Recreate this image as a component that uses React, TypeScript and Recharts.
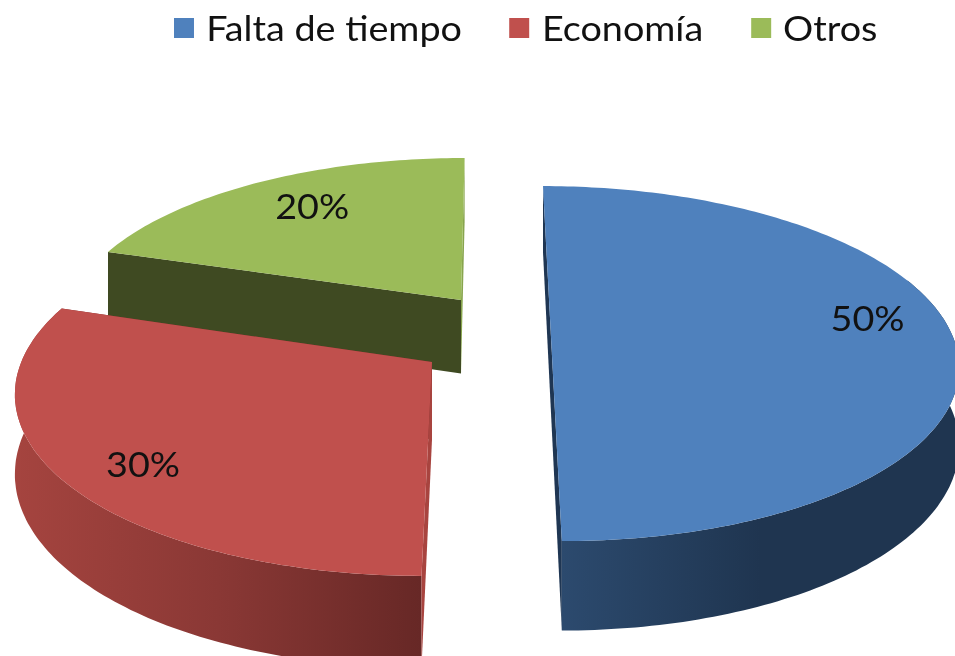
import { PieChart, Pie, Legend } from 'recharts'

const categories = ['Falta de tiempo', 'Economía', 'Otros']
const shares = [50, 30, 20]
const colors = ['#4f81bd', '#c0504d', '#9bbb59']

// drawn back to front, so the pie runs counter-clockwise from the top
const drawOrder = [2, 1, 0]
const pieData = drawOrder.map((i) => ({ name: categories[i], value: shares[i], fill: colors[i] }))

// how the fake 3D is built: plane offset of each exploded slice, wall and rim shades
const looks: Record<string, any> = {
  'Falta de tiempo': { ox: 61, oy: 0, startWall: '#1f3653', endWall: '#1f3653', rimFrom: '#2c4a6e', rimMid: '#1f3550', rimTo: '#1f3550', label: [-5, -19] },
  'Economía': { ox: -56.8, oy: -56.7, startWall: '#7a2e2c', endWall: '#a8443f', rimFrom: '#a5443f', rimMid: '#8a3835', rimTo: '#672826', label: [2, 10] },
  'Otros': { ox: -30, oy: 88.6, startWall: '#88a54e', endWall: '#3f4a22', rimFrom: '#3f4a22', rimMid: '#3f4a22', rimTo: '#3f4a22', label: [16, 2] },
}

const squash = 0.4316
const perspective = 0.15
const depth = 76
const textStretch = 1.11
const RAD = Math.PI / 180

const project = (cx: number, cy: number, R: number, px: number, py: number, z = 0) => {
  const s = 1 / (1 + (perspective * py) / R)
  return [cx + px * s, cy - py * squash * s + z * depth * s]
}

const toPath = (pts: number[][]) =>
  pts.map((p, i) => `${i ? 'L' : 'M'}${p[0].toFixed(1)} ${p[1].toFixed(1)}`).join(' ') + ' Z'

const Slice3D = (props: any) => {
  const { cx, cy, outerRadius: R, startAngle, endAngle, name, fill } = props
  const look = looks[name]
  const at = (a: number, r: number, z = 0) =>
    project(cx, cy, R, look.ox + r * Math.cos(a * RAD), look.oy + r * Math.sin(a * RAD), z)

  const arc = (from: number, to: number, z = 0) => {
    const pts: number[][] = []
    for (let a = from; a < to; a += 1) pts.push(at(a, R, z))
    pts.push(at(to, R, z))
    return pts
  }

  // rim runs a bit past the sides so the silhouette has no notch
  const rimFrom = Math.max(startAngle, 162)
  const rimTo = Math.min(endAngle, 380)
  const gradId = `rim-${Math.round(look.ox)}`

  return (
    <g>
      <defs>
        <linearGradient id={gradId} x1="0" y1="0" x2="1" y2="0">
          <stop offset="0%" stopColor={look.rimFrom} />
          <stop offset="50%" stopColor={look.rimMid} />
          <stop offset="100%" stopColor={look.rimTo} />
        </linearGradient>
      </defs>
      <path d={toPath([at(startAngle, 0), at(startAngle, R), at(startAngle, R, 1), at(startAngle, 0, 1)])} fill={look.startWall} />
      {name !== 'Otros' && rimTo > rimFrom && (
        <path d={toPath([...arc(rimFrom, rimTo), ...arc(rimFrom, rimTo, 1).reverse()])} fill={`url(#${gradId})`} />
      )}
      <path d={toPath([at(endAngle, 0), at(endAngle, R), at(endAngle, R, 1), at(endAngle, 0, 1)])} fill={look.endWall} />
      <path d={toPath([at(0, 0), ...arc(startAngle, endAngle)])} fill={fill} />
    </g>
  )
}

const renderLabel = (props: any) => {
  const { cx, cy, outerRadius: R, midAngle, percent, name } = props
  const look = looks[name]
  const r = R * 0.8
  const [x, y] = project(cx, cy, R, look.ox + r * Math.cos(midAngle * RAD), look.oy + r * Math.sin(midAngle * RAD))
  const tx = x + look.label[0]
  return (
    <text
      x={tx}
      y={y + look.label[1]}
      transform={`translate(${tx} 0) scale(${textStretch} 1) translate(${-tx} 0)`}
      textAnchor="middle"
      dominantBaseline="central"
      fontSize={34}
      fill="#111"
      fontFamily="Lato, sans-serif"
    >
      {`${Math.round(percent * 100)}%`}
    </text>
  )
}

// the source image is stretched sideways, so the whole row gets the same stretch
const LegendRow = () => (
  <div
    style={{
      position: 'absolute',
      left: 174,
      top: 6,
      display: 'flex',
      fontFamily: 'Lato, sans-serif',
      fontSize: 34,
      color: '#111',
      lineHeight: '44px',
      whiteSpace: 'nowrap',
      transform: `scaleX(${textStretch})`,
      transformOrigin: 'left center',
    }}
  >
    {categories.map((c, i) => (
      <div key={c} style={{ display: 'flex', alignItems: 'center', marginRight: 43 }}>
        <span style={{ width: 18, height: 20, background: colors[i], marginRight: 11, display: 'inline-block' }} />
        {c}
      </div>
    ))}
  </div>
)

export default function App() {
  return (
    <div style={{ position: 'absolute', left: 0, top: 0, width: 955, height: 656, overflow: 'hidden', filter: 'blur(0.5px)' }}>
      <PieChart width={955} height={656} margin={{ top: 0, right: 0, bottom: 0, left: 0 }}>
        <Legend content={<LegendRow />} verticalAlign="top" height={0} wrapperStyle={{ top: 0, left: 0 }} />
        <Pie
          data={pieData}
          dataKey="value"
          nameKey="name"
          cx={490}
          cy={337}
          innerRadius={0}
          outerRadius={402}
          startAngle={90}
          endAngle={450}
          stroke="none"
          shape={Slice3D}
          label={renderLabel}
          labelLine={false}
          isAnimationActive={false}
        />
      </PieChart>
    </div>
  )
}
